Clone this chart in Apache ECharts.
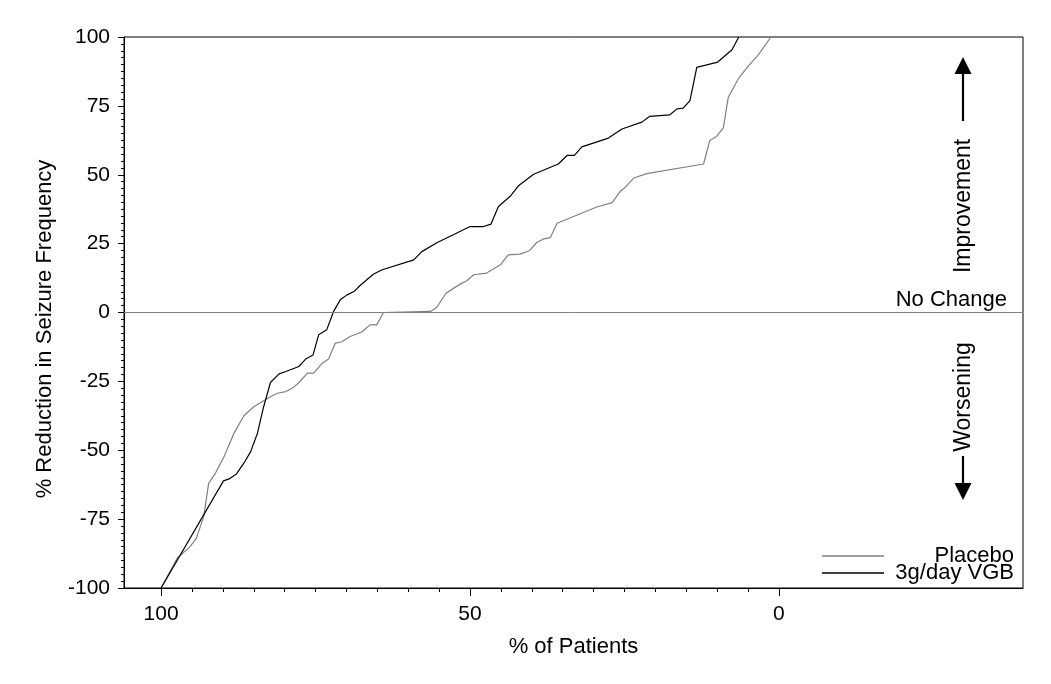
<!DOCTYPE html>
<html>
<head>
<meta charset="utf-8">
<script src="https://cdn.jsdelivr.net/npm/echarts@6/dist/echarts.min.js"></script>
<style>
html,body{margin:0;padding:0;background:#fff;}
#chart{width:1051px;height:684px;}
</style>
</head>
<body>
<div id="chart"></div>
<script>
// Placebo: % of patients vs % reduction in seizure frequency
var placeboPct = [100, 97.4, 95.3, 94.3, 93.1, 92.3, 91.2, 89.8, 88.2, 86.6, 85.0, 83.4, 82.0, 81.2, 79.8, 78.5, 77.7, 76.3, 75.3, 73.9, 72.9, 71.8, 70.9, 69.4, 67.5, 66.2, 65.1, 64.0, 56.4, 55.4, 53.9, 51.6, 50.5, 49.4, 47.3, 45.1, 43.8, 41.9, 40.4, 39.2, 38.1, 37.0, 35.9, 29.5, 27.0, 25.7, 24.9, 23.5, 21.4, 12.2, 11.2, 10.1, 9.0, 8.2, 6.5, 4.9, 3.3, 1.3];
var placeboVal = [-100, -89.2, -85.0, -82.0, -74.1, -62.0, -58.3, -52.3, -43.8, -37.5, -34.2, -32.0, -30.2, -29.3, -28.7, -27.1, -25.4, -22.0, -22.0, -18.4, -16.9, -11.1, -10.8, -8.7, -7.1, -4.5, -4.5, 0, 0.4, 1.8, 7.0, 10.3, 11.5, 13.7, 14.3, 17.3, 20.9, 21.2, 22.4, 25.4, 26.7, 27.2, 32.4, 38.3, 39.9, 43.9, 45.4, 48.8, 50.4, 53.9, 62.4, 63.9, 67.0, 78.1, 85.1, 89.6, 93.6, 100];
// 3g/day VGB
var vgbPct = [100, 89.9, 89.0, 87.8, 86.6, 85.5, 84.4, 83.4, 82.3, 80.9, 79.8, 77.7, 76.6, 75.4, 74.5, 73.2, 72.1, 71.0, 69.9, 68.8, 67.7, 65.6, 64.2, 59.1, 57.8, 55.3, 52.7, 50.0, 47.8, 46.6, 45.4, 43.4, 42.1, 39.7, 35.7, 34.3, 33.1, 31.9, 27.6, 25.4, 22.2, 20.9, 17.7, 16.5, 15.5, 14.4, 13.3, 9.9, 7.6, 6.5];
var vgbVal = [-100, -61.1, -60.4, -58.6, -54.7, -50.5, -43.8, -34.2, -25.4, -22.3, -21.4, -19.6, -16.9, -15.4, -8.1, -6.3, 0.3, 4.6, 6.4, 7.6, 10.0, 14.0, 15.5, 19.1, 22.1, 25.4, 28.2, 31.2, 31.2, 32.1, 38.5, 42.4, 46.1, 50.2, 53.9, 57.0, 57.0, 60.1, 63.3, 66.6, 69.1, 71.2, 71.7, 73.9, 74.2, 76.9, 89.0, 90.9, 95.4, 100];

var xLabelValues = [0, 50, 100];
var xMinorTickValues = [0, 5, 10, 15, 20, 25, 30, 35, 40, 45, 50, 55, 60, 65, 70, 75, 80, 85, 90, 95, 100];
var seriesNames = ['Placebo', '3g/day VGB'];

function pairs(xs, ys) { return xs.map(function (x, i) { return [x, ys[i]]; }); }

var FONT = "'Liberation Sans', Arial, Helvetica, sans-serif";
var chart = echarts.init(document.getElementById('chart'), null, {renderer: 'canvas'});

var option = {
  animation: false,
  backgroundColor: '#fff',
  grid: {left: 124, right: 28, top: 37, bottom: 96, show: true, borderColor: '#000', borderWidth: 1, backgroundColor: 'transparent'},
  legend: {
    orient: 'vertical', left: 822, top: 545, padding: 0, itemGap: -5,
    icon: 'rect', itemWidth: 62, itemHeight: 1.4,
    data: seriesNames,
    formatter: function (n) { return '{a|' + n + '}'; },
    textStyle: {
      rich: {a: {fontFamily: FONT, fontSize: 22, color: '#000', width: 125, align: 'right', lineHeight: 17}}
    }
  },
  xAxis: [{
    type: 'value', inverse: true, min: -39.5, max: 106,
    name: '% of Patients', nameLocation: 'middle', nameGap: 48,
    nameTextStyle: {fontFamily: FONT, fontSize: 22, color: '#000'},
    axisLine: {show: true, onZero: false, lineStyle: {color: '#000', width: 1}},
    axisTick: {show: true, length: 8, customValues: xLabelValues, lineStyle: {color: '#000'}},
    axisLabel: {customValues: xLabelValues, fontFamily: FONT, fontSize: 21, color: '#000', margin: 16},
    splitLine: {show: false}
  }, {
    type: 'value', inverse: true, min: -39.5, max: 106, position: 'bottom',
    axisLine: {show: false, onZero: false},
    axisTick: {show: true, length: 4, customValues: xMinorTickValues, lineStyle: {color: '#000'}},
    axisLabel: {show: false},
    splitLine: {show: false}
  }],
  yAxis: {
    type: 'value', min: -100, max: 100, interval: 25,
    name: '% Reduction in Seizure Frequency', nameLocation: 'middle', nameGap: 68, nameRotate: 90,
    nameTextStyle: {fontFamily: FONT, fontSize: 22, color: '#000', padding: [0, 33, 0, 0]},
    axisLine: {show: true, onZero: false, lineStyle: {color: '#000', width: 1}},
    axisTick: {show: true, length: 6, lineStyle: {color: '#000'}},
    minorTick: {show: true, splitNumber: 10, length: 3, lineStyle: {color: '#000'}},
    axisLabel: {fontFamily: FONT, fontSize: 21, color: '#000', margin: 14},
    splitLine: {show: false}
  },
  series: [{
    name: seriesNames[0], type: 'line', xAxisIndex: 0, data: pairs(placeboPct, placeboVal),
    symbol: 'none', lineStyle: {color: '#808080', width: 1.2}, itemStyle: {color: '#808080'},
    markLine: {silent: true, symbol: 'none', label: {show: false},
      lineStyle: {color: '#808080', width: 1, type: 'solid'}, data: [{yAxis: 0}]}
  }, {
    name: seriesNames[1], type: 'line', xAxisIndex: 0, data: pairs(vgbPct, vgbVal),
    symbol: 'none', lineStyle: {color: '#000', width: 1.2}, itemStyle: {color: '#000'}
  }],
  graphic: [
    {type: 'text', x: 1007, y: 300, style: {text: 'No Change', font: '22px ' + FONT, fill: '#000', align: 'right', verticalAlign: 'middle'}},
    {type: 'text', x: 964, y: 206, rotation: Math.PI / 2, style: {text: 'Improvement', font: '23px ' + FONT, fill: '#000', align: 'center', verticalAlign: 'middle'}},
    {type: 'text', x: 964, y: 397, rotation: Math.PI / 2, style: {text: 'Worsening', font: '23px ' + FONT, fill: '#000', align: 'center', verticalAlign: 'middle'}},
    {type: 'line', shape: {x1: 963, y1: 121, x2: 963, y2: 70}, style: {stroke: '#000', lineWidth: 2.2}},
    {type: 'polygon', shape: {points: [[963, 57], [954.5, 74], [971.5, 74]]}, style: {fill: '#000'}},
    {type: 'line', shape: {x1: 963, y1: 456, x2: 963, y2: 487}, style: {stroke: '#000', lineWidth: 2.2}},
    {type: 'polygon', shape: {points: [[963, 500], [954.5, 483], [971.5, 483]]}, style: {fill: '#000'}}
  ]
};
chart.setOption(option);
</script>
</body>
</html>
